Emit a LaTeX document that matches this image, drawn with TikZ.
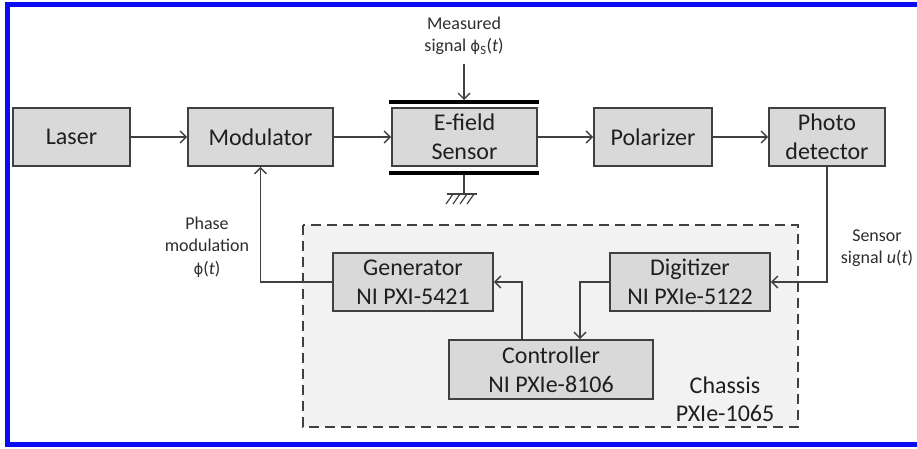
\documentclass[tikz,border=0pt]{standalone}
\usepackage{fontspec}
\setmainfont{Carlito}
\newfontfamily\symf{DejaVu Sans}
\usetikzlibrary{arrows.meta}
\definecolor{framblue}{RGB}{10,10,245}
\definecolor{boxgray}{RGB}{217,217,217}
\definecolor{chgray}{RGB}{242,242,242}
\definecolor{linegray}{RGB}{64,64,64}
\newcommand{\myphi}{{\symf\fontsize{15}{18}\selectfont ϕ}}
\tikzset{
  blk/.style={draw=linegray, fill=boxgray, line width=1.6pt, inner sep=0pt,
    align=center, font=\fontsize{24}{29}\selectfont, text=black!88},
  lbl/.style={align=center, inner sep=0pt, font=\fontsize{18}{22.5}\selectfont, text=black!82},
  conn/.style={draw=linegray, line width=1.4pt},
  arr/.style={conn, -{Straight Barb[length=6pt,width=12pt,line width=1.4pt]}},
  plate/.style={line width=4pt, draw=black}
}
\begin{document}
\begin{tikzpicture}[x=1pt,y=-1pt]
\useasboundingbox (0,0) rectangle (917,448);
\clip (0,0) rectangle (917,448);
\fill[white] (0,0) rectangle (917,448);
\draw[framblue, line width=5.5pt] (7.5,4.5) rectangle (930,444.5);
% chassis
\draw[draw=linegray, fill=chgray, line width=1.4pt, dash pattern=on 10pt off 6pt]
  (303,225) rectangle (798,427);
% top row
\node[blk, minimum width=117pt, minimum height=58pt] (laser) at (71.5,137) {Laser};
\node[blk, minimum width=145pt, minimum height=58pt] (mod) at (260.5,137) {Modulator};
\node[blk, minimum width=145pt, minimum height=58pt] (efs) at (464.5,137) {E-field\\Sensor};
\node[blk, minimum width=118pt, minimum height=58pt] (pol) at (653,137) {Polarizer};
\node[blk, minimum width=116pt, minimum height=58pt] (pd) at (827,137) {Photo\\detector};
% inner row
\node[blk, minimum width=160pt, minimum height=58pt] (gen) at (413,282) {Generator\\NI PXI-5421};
\node[blk, minimum width=160pt, minimum height=58pt] (dig) at (690,282) {Digitizer\\NI PXIe-5122};
\node[blk, minimum width=204pt, minimum height=59pt] (ctl) at (551,369.5) {Controller\\NI PXIe-8106};
% plates
\coordinate (ptl) at (389,102);
\coordinate (ptr) at (539,102);
\coordinate (pbl) at (389,173);
\coordinate (pbr) at (539,173);
\draw[plate] (ptl) -- (ptr);
\draw[plate] (pbl) -- (pbr);
% ground
\coordinate (gtop) at (464,175);
\coordinate (gmid) at (464,194);
\draw[conn] (gtop) -- (gmid);
\draw[conn] (447,194) -- (477,194);
\foreach \gx in {453,460,467,474} {
  \draw[conn, line width=1.2pt] (\gx,194) -- (\gx-7,204);
}
% labels
\node[lbl] (meas) at (464,36) {Measured\\signal \myphi\textsubscript{S}(\textit{t})};
\node[lbl] (phase) at (207,247) {Phase\\modulation\\\myphi(\textit{t})};
\node[lbl] (sens) at (877,248) {Sensor\\signal \textit{u}(\textit{t})};
\node[align=center, inner sep=0pt, font=\fontsize{24}{28}\selectfont, text=black!88] (chas) at (725,399) {Chassis\\PXIe-1065};
% connectors
\coordinate (measin) at (464,64);
\draw[arr] (measin) -- (464,100);
\draw[arr] (laser) -- (mod);
\draw[arr] (mod) -- (efs);
\draw[arr] (efs) -- (pol);
\draw[arr] (pol) -- (pd);
\draw[arr] (pd.south) |- (dig.east);
\draw[arr] (gen.west) -| (mod.south);
\draw[arr] (ctl.north -| 522,0) |- (gen.east);
\draw[arr] (dig.west) -| (ctl.north -| 580,0);
\end{tikzpicture}
\end{document}
